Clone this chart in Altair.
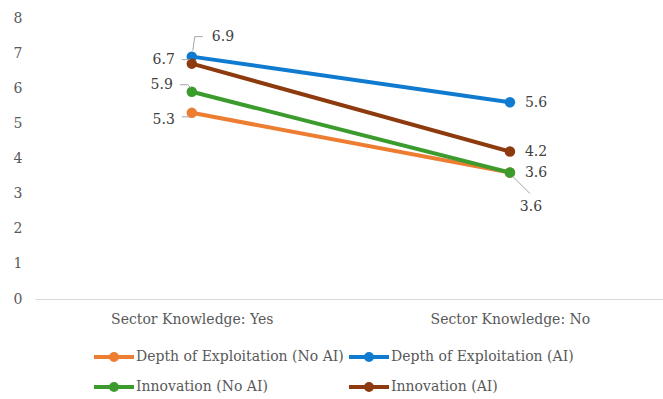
import altair as alt
import pandas as pd

CATEGORIES = ["Sector Knowledge: Yes", "Sector Knowledge: No"]
SERIES = [
    "Depth of Exploitation (No AI)",
    "Depth of Exploitation (AI)",
    "Innovation (No AI)",
    "Innovation (AI)",
]
DEPTH_NO_AI = [5.3, 3.6]
DEPTH_AI = [6.9, 5.6]
INNOV_NO_AI = [5.9, 3.6]
INNOV_AI = [6.7, 4.2]
Y_TICKS = [0, 1, 2, 3, 4, 5, 6, 7, 8]

COLORS = ["#ED7D31", "#0F7BD0", "#3B9C2D", "#8C3A0E"]
FONT = "DejaVu Serif"
FS = 14
AXIS_GREY = "#595959"
LABEL_GREY = "#404040"
LEADER_GREY = "#A6A6A6"

rows = []
for s, vals in zip(SERIES, [DEPTH_NO_AI, DEPTH_AI, INNOV_NO_AI, INNOV_AI]):
    for c, v in zip(CATEGORIES, vals):
        rows.append({"series": s, "cat": c, "value": v})
df = pd.DataFrame(rows)

# label placement styles (pixel offsets from the point)
LABEL_STYLE = {
    (SERIES[1], CATEGORIES[0]): dict(align="left", dx=20, dy=-20),
    (SERIES[3], CATEGORIES[0]): dict(align="right", dx=-17, dy=-4),
    (SERIES[2], CATEGORIES[0]): dict(align="right", dx=-19, dy=-7),
    (SERIES[0], CATEGORIES[0]): dict(align="right", dx=-17, dy=7),
    (SERIES[1], CATEGORIES[1]): dict(align="left", dx=15, dy=1),
    (SERIES[3], CATEGORIES[1]): dict(align="left", dx=15, dy=1),
    (SERIES[2], CATEGORIES[1]): dict(align="left", dx=15, dy=0),
    (SERIES[0], CATEGORIES[1]): dict(align="center", dx=21, dy=34),
}
LEADER_STYLE = {
    (SERIES[1], CATEGORIES[0]): [(1, -6, 3, -20), (3, -20, 11, -20)],
    (SERIES[3], CATEGORIES[0]): [(-10, -4, -2, -4)],
    (SERIES[2], CATEGORIES[0]): [(-12, -7, -4, -7), (-4, -7, -1, -4)],
    (SERIES[0], CATEGORIES[0]): [(-10, 4, -3, 4)],
    (SERIES[0], CATEGORIES[1]): [(3, 4, 20, 21)],
}

x_enc = alt.X(
    "cat:N",
    sort=CATEGORIES,
    scale=alt.Scale(type="point", padding=0.487, align=0.506),
    axis=alt.Axis(
        title=None,
        labelAngle=0,
        ticks=False,
        domainColor="#D9D9D9",
        domainWidth=1.2,
        labelFont=FONT,
        labelFontSize=FS,
        labelColor=AXIS_GREY,
        labelPadding=13,
    ),
)
y_enc = alt.Y(
    "value:Q",
    scale=alt.Scale(domain=[0, 8], nice=False),
    axis=alt.Axis(
        title=None,
        values=Y_TICKS,
        grid=False,
        domain=False,
        ticks=False,
        labelFont=FONT,
        labelFontSize=FS,
        labelColor=AXIS_GREY,
        labelPadding=13,
    ),
)

SYMBOL = (
    "M-4,0H4"
    "M-0.6,0A0.6,0.6,0,1,1,0.6,0A0.6,0.6,0,1,1,-0.6,0Z"
    "M-0.2,0A0.2,0.2,0,1,1,0.2,0A0.2,0.2,0,1,1,-0.2,0Z"
)

color_scale = alt.Scale(domain=SERIES, range=COLORS)

base = alt.Chart(df)

lines = base.mark_line(strokeWidth=4).encode(
    x=x_enc,
    y=y_enc,
    color=alt.Color(
        "series:N",
        scale=color_scale,
        sort=SERIES,
        legend=alt.Legend(
            title=None,
            orient="none",
            legendX=72,
            legendY=332,
            direction="horizontal",
            columns=2,
            columnPadding=-3,
            rowPadding=8,
            symbolType=SYMBOL,
            symbolSize=100,
            symbolStrokeWidth=4,
            labelOffset=15,
            labelFont=FONT,
            labelFontSize=FS,
            labelColor=AXIS_GREY,
            labelLimit=400,
        ),
    ),
    order=alt.Order("cat_order:Q"),
).transform_calculate(cat_order=f"indexof({CATEGORIES!r}, datum.cat)")

points = base.mark_point(filled=True, size=110, opacity=1).encode(
    x=x_enc,
    y=y_enc,
    color=alt.Color("series:N", scale=color_scale, legend=None),
)

layers = [lines, points]

for (s, c), segs in LEADER_STYLE.items():
    for (x0, y0, x1, y1) in segs:
        layers.append(
            base.transform_filter(
                (alt.datum.series == s) & (alt.datum.cat == c)
            ).mark_rule(
                color=LEADER_GREY, strokeWidth=1,
                xOffset=x0, yOffset=y0, x2Offset=x1, y2Offset=y1,
            ).encode(
                x=x_enc, y=y_enc, x2=alt.X2("cat:N"), y2=alt.Y2("value:Q")
            )
        )

for (s, c), st in LABEL_STYLE.items():
    layers.append(
        base.transform_filter(
            (alt.datum.series == s) & (alt.datum.cat == c)
        ).mark_text(
            font=FONT, fontSize=FS, color=LABEL_GREY, baseline="middle",
            align=st["align"], dx=st["dx"], dy=st["dy"],
        ).encode(
            x=x_enc, y=y_enc, text=alt.Text("value:Q", format=".1f")
        )
    )

chart = alt.layer(*layers).properties(
    width=628,
    height=281,
    padding={"left": 35, "top": 18, "right": 0, "bottom": 100},
    autosize=alt.AutoSizeParams(type="none"),
    background="white",
).configure_view(stroke=None)

chart.save("out.html", embed_options={"renderer": "svg", "actions": False})
